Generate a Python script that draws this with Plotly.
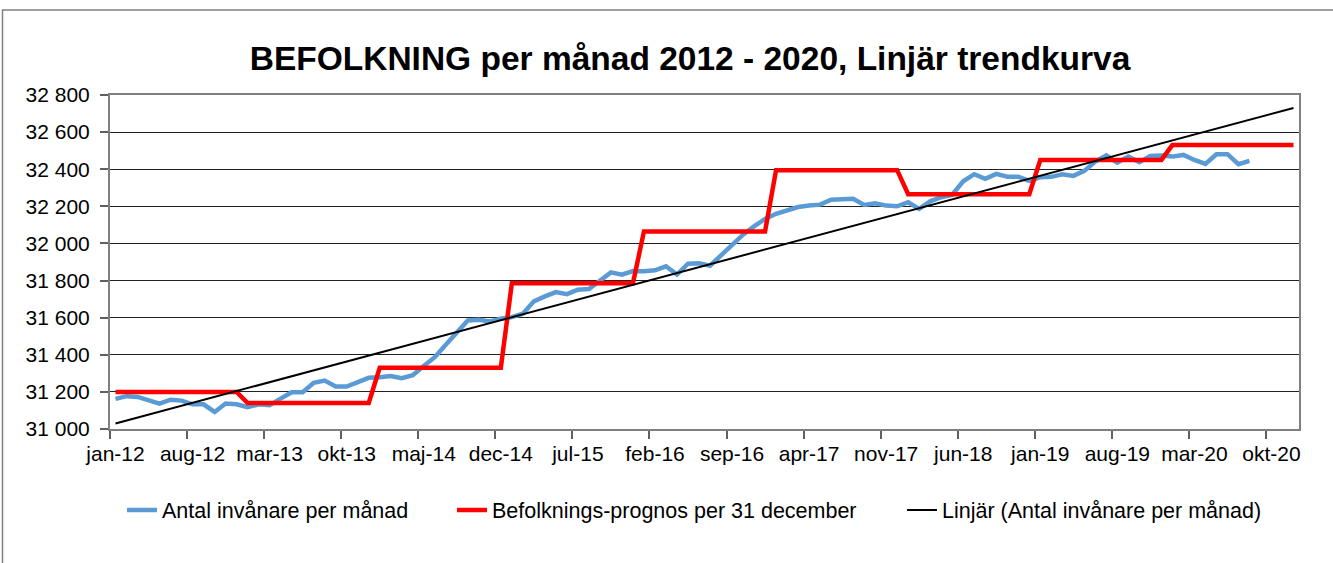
import plotly.graph_objects as go

# ---- data ----
tick_labels = ["jan-12", "aug-12", "mar-13", "okt-13", "maj-14", "dec-14", "jul-15", "feb-16",
               "sep-16", "apr-17", "nov-17", "jun-18", "jan-19", "aug-19", "mar-20", "okt-20"]
n_months = 108  # jan-12 .. dec-20

population = [31162, 31177, 31173, 31155, 31137, 31158, 31153, 31133, 31133, 31092, 31137, 31133,
              31117, 31133, 31128, 31164, 31198, 31198, 31249, 31261, 31229, 31229, 31252, 31276,
              31279, 31285, 31274, 31290, 31340, 31387, 31454, 31517, 31585, 31589, 31580, 31594,
              31603, 31621, 31688, 31715, 31738, 31727, 31751, 31754, 31796, 31844, 31832, 31851,
              31850, 31855, 31877, 31832, 31891, 31893, 31880, 31935, 31993, 32047, 32092, 32132,
              32160, 32177, 32196, 32204, 32209, 32236, 32236, 32241, 32207, 32216, 32204, 32200,
              32222, 32186, 32227, 32249, 32263, 32335, 32373, 32348, 32375, 32360, 32360, 32337,
              32357, 32359, 32373, 32364, 32391, 32441, 32474, 32436, 32468, 32438, 32472, 32474,
              32468, 32477, 32450, 32429, 32481, 32481, 32427, 32445]

forecast_years = [2012, 2013, 2014, 2015, 2016, 2017, 2018, 2019, 2020]
forecast_values = [31200, 31140, 31330, 31785, 32065, 32395, 32265, 32450, 32530]

trend_x = [0, 107]
trend_values = [31030, 32730]

y_ticks = [31000, 31200, 31400, 31600, 31800, 32000, 32200, 32400, 32600, 32800]
y_tick_text = ["31 000", "31 200", "31 400", "31 600", "31 800", "32 000", "32 200", "32 400", "32 600", "32 800"]

# ---- derived ----
forecast_monthly = [v for v in forecast_values for _ in range(12)]
x_pop = list(range(len(population)))
x_all = list(range(n_months))
tick_pos = [7 * k for k in range(len(tick_labels))]
tick_marks = [7 * k - 0.5 for k in range(len(tick_labels))]

W, H = 1333, 563
L, R, T, B = 110, 34, 95, 134
FONT = "Arial, Liberation Sans, sans-serif"

fig = go.Figure()
fig.add_trace(go.Scatter(x=x_pop, y=population, mode="lines", name="Antal invånare per månad",
                         line=dict(color="#5B9BD5", width=4.5, shape="linear"), legend="legend"))
fig.add_trace(go.Scatter(x=x_all, y=forecast_monthly, mode="lines", name="Befolknings-prognos per 31 december",
                         line=dict(color="#FF0000", width=4.5), legend="legend2"))
fig.add_trace(go.Scatter(x=trend_x, y=trend_values, mode="lines", name="Linjär (Antal invånare per månad)",
                         line=dict(color="#000000", width=2), legend="legend3"))

ly = 1 - 510 / H
leg_common = dict(xref="container", yref="container", yanchor="middle", xanchor="left",
                  bgcolor="rgba(0,0,0,0)", font=dict(family=FONT, size=21.5, color="#000"),
                  itemwidth=30, tracegroupgap=0)

fig.update_layout(
    width=W, height=H,
    margin=dict(l=L, r=R, t=T, b=B, autoexpand=False),
    paper_bgcolor="white", plot_bgcolor="white",
    title=dict(text="<b>BEFOLKNING per månad 2012 - 2020, Linjär trendkurva</b>",
               font=dict(family=FONT, size=33.5, color="#000"),
               xref="container", yref="container", x=690 / W, y=1 - 58 / H,
               xanchor="center", yanchor="middle"),
    legend=dict(x=122 / W, y=ly, **leg_common),
    legend2=dict(x=452 / W, y=ly, **leg_common),
    legend3=dict(x=902 / W, y=ly, **leg_common),
    xaxis=dict(range=[-0.5, n_months - 0.5], tickmode="array", tickvals=tick_pos, ticktext=tick_labels,
               ticks="", showgrid=False, zeroline=False, automargin=False, ticklabelstandoff=5,
               showline=True, linecolor="#808080", linewidth=2, mirror=True,
               tickfont=dict(family=FONT, size=21, color="#000"),
               minor=dict(tickmode="array", tickvals=tick_marks, ticks="outside", ticklen=8,
                          tickwidth=1.5, tickcolor="#606060", showgrid=False)),
    yaxis=dict(range=[31000, 32800], tickmode="array", tickvals=y_ticks, ticktext=y_tick_text,
               ticks="outside", ticklen=8, tickwidth=1.5, tickcolor="#606060", automargin=False,
               ticklabelstandoff=6,
               showgrid=True, gridcolor="#222222", gridwidth=1, zeroline=False,
               showline=True, linecolor="#808080", linewidth=2, mirror=True,
               tickfont=dict(family=FONT, size=21, color="#000")),
    showlegend=True,
)

# outer chart border
px2x = lambda p: (p - L) / (W - L - R)
py2y = lambda p: (H - B - p) / (H - T - B)
fig.add_shape(type="rect", xref="paper", yref="paper",
              x0=px2x(2.5), x1=px2x(W + 10), y0=py2y(H + 10), y1=py2y(10),
              line=dict(color="#808080", width=1.5), fillcolor="rgba(0,0,0,0)", layer="below")

fig.write_html("out.html", config={"displayModeBar": False},
               post_script="document.body.style.margin='0';document.body.style.overflow='hidden';")
